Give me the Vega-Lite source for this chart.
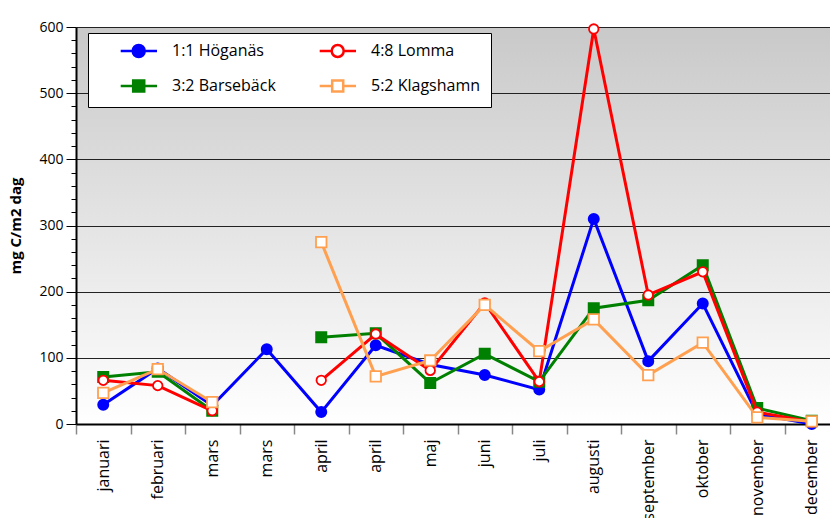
{
  "$schema": "https://vega.github.io/schema/vega-lite/v6.json",
  "width": 754,
  "height": 397,
  "autosize": {"type": "none"},
  "padding": {"left": 76, "top": 27, "right": 0, "bottom": 94},
  "config": {
    "font": "Open Sans",
    "view": {
      "stroke": null,
      "fill": {"gradient": "linear", "x1": 0, "y1": 0, "x2": 0, "y2": 1,
        "stops": [{"offset": 0, "color": "#c9c9c9"}, {"offset": 1, "color": "#ffffff"}]}
    }
  },
  "data": {"values": [
    {"s": "1:1 Höganäs", "m": "januari", "v": 29},
    {"s": "1:1 Höganäs", "m": "februari", "v": 84},
    {"s": "1:1 Höganäs", "m": "mars|1", "v": 28},
    {"s": "1:1 Höganäs", "m": "mars|2", "v": 113},
    {"s": "1:1 Höganäs", "m": "april|1", "v": 18},
    {"s": "1:1 Höganäs", "m": "april|2", "v": 119},
    {"s": "1:1 Höganäs", "m": "maj", "v": 90},
    {"s": "1:1 Höganäs", "m": "juni", "v": 74},
    {"s": "1:1 Höganäs", "m": "juli", "v": 52},
    {"s": "1:1 Höganäs", "m": "augusti", "v": 310},
    {"s": "1:1 Höganäs", "m": "september", "v": 95},
    {"s": "1:1 Höganäs", "m": "oktober", "v": 182},
    {"s": "1:1 Höganäs", "m": "november", "v": 15},
    {"s": "1:1 Höganäs", "m": "december", "v": 0},
    {"s": "3:2 Barsebäck", "m": "januari", "v": 71},
    {"s": "3:2 Barsebäck", "m": "februari", "v": 79},
    {"s": "3:2 Barsebäck", "m": "mars|1", "v": 20},
    {"s": "3:2 Barsebäck", "m": "mars|2", "v": null},
    {"s": "3:2 Barsebäck", "m": "april|1", "v": 131},
    {"s": "3:2 Barsebäck", "m": "april|2", "v": 137},
    {"s": "3:2 Barsebäck", "m": "maj", "v": 62},
    {"s": "3:2 Barsebäck", "m": "juni", "v": 106},
    {"s": "3:2 Barsebäck", "m": "juli", "v": 64},
    {"s": "3:2 Barsebäck", "m": "augusti", "v": 175},
    {"s": "3:2 Barsebäck", "m": "september", "v": 187},
    {"s": "3:2 Barsebäck", "m": "oktober", "v": 240},
    {"s": "3:2 Barsebäck", "m": "november", "v": 24},
    {"s": "3:2 Barsebäck", "m": "december", "v": 5},
    {"s": "4:8 Lomma", "m": "januari", "v": 66},
    {"s": "4:8 Lomma", "m": "februari", "v": 58},
    {"s": "4:8 Lomma", "m": "mars|1", "v": 20},
    {"s": "4:8 Lomma", "m": "mars|2", "v": null},
    {"s": "4:8 Lomma", "m": "april|1", "v": 66},
    {"s": "4:8 Lomma", "m": "april|2", "v": 136},
    {"s": "4:8 Lomma", "m": "maj", "v": 81},
    {"s": "4:8 Lomma", "m": "juni", "v": 183},
    {"s": "4:8 Lomma", "m": "juli", "v": 64},
    {"s": "4:8 Lomma", "m": "augusti", "v": 597},
    {"s": "4:8 Lomma", "m": "september", "v": 195},
    {"s": "4:8 Lomma", "m": "oktober", "v": 230},
    {"s": "4:8 Lomma", "m": "november", "v": 18},
    {"s": "4:8 Lomma", "m": "december", "v": 3},
    {"s": "5:2 Klagshamn", "m": "januari", "v": 47},
    {"s": "5:2 Klagshamn", "m": "februari", "v": 83},
    {"s": "5:2 Klagshamn", "m": "mars|1", "v": 33},
    {"s": "5:2 Klagshamn", "m": "mars|2", "v": null},
    {"s": "5:2 Klagshamn", "m": "april|1", "v": 275},
    {"s": "5:2 Klagshamn", "m": "april|2", "v": 72},
    {"s": "5:2 Klagshamn", "m": "maj", "v": 96},
    {"s": "5:2 Klagshamn", "m": "juni", "v": 180},
    {"s": "5:2 Klagshamn", "m": "juli", "v": 110},
    {"s": "5:2 Klagshamn", "m": "augusti", "v": 158},
    {"s": "5:2 Klagshamn", "m": "september", "v": 74},
    {"s": "5:2 Klagshamn", "m": "oktober", "v": 123},
    {"s": "5:2 Klagshamn", "m": "november", "v": 10},
    {"s": "5:2 Klagshamn", "m": "december", "v": 4}
  ]},
  "encoding": {
    "x": {
      "field": "m", "type": "nominal",
      "scale": {
        "type": "band",
        "domain": ["januari", "februari", "mars|1", "mars|2", "april|1", "april|2", "maj", "juni", "juli", "augusti", "september", "oktober", "november", "december"],
        "range": [0, 763],
        "paddingInner": 0, "paddingOuter": 0
      },
      "axis": {
        "title": null,
        "labelExpr": "split(datum.label, '|')[0]",
        "labelAngle": 270,
        "labelFontSize": 16,
        "labelColor": "black",
        "labelPadding": 5,
        "tickBand": "extent",
        "tickSize": 10,
        "tickColor": "#888888",
        "tickWidth": 1.5,
        "domainColor": "black",
        "domainWidth": 2,
        "grid": false
      }
    },
    "y": {
      "field": "v", "type": "quantitative",
      "scale": {"domain": [0, 600], "nice": false, "zero": true},
      "axis": {
        "title": "mg C/m2 dag",
        "titleFontSize": 15,
        "titleFontWeight": "bold",
        "titleColor": "black",
        "titlePadding": 15,
        "values": [0, 20, 40, 60, 80, 100, 120, 140, 160, 180, 200, 220, 240, 260, 280, 300, 320, 340, 360, 380, 400, 420, 440, 460, 480, 500, 520, 540, 560, 580, 600],
        "labelExpr": "datum.value % 100 === 0 ? datum.label : ''",
        "labelFontSize": 14,
        "labelColor": "black",
        "labelPadding": 3,
        "tickSize": {"condition": {"test": "datum.value % 100 === 0", "value": 10}, "value": 5},
        "tickColor": "black",
        "domainColor": "black",
        "domainWidth": 2,
        "grid": true,
        "gridColor": "#222222",
        "gridWidth": 1,
        "gridOpacity": {"condition": {"test": "datum.value % 100 === 0 && datum.value > 0", "value": 1}, "value": 0}
      }
    }
  },
  "layer": [
    {
      "transform": [{"filter": "datum.s === '1:1 Höganäs'"}],
      "mark": {"type": "line", "strokeWidth": 3, "stroke": "#0000ff", "invalid": "break-paths-show-domains"},
      "encoding": {"order": {"value": null}}
    },
    {
      "transform": [{"filter": "datum.s === '1:1 Höganäs' && isValid(datum.v)"}],
      "mark": {"type": "point", "shape": "circle", "filled": true, "size": 100, "fill": "#0000ff", "stroke": "#0000ff", "strokeWidth": 2, "opacity": 1},
      "encoding": {}
    },
    {
      "transform": [{"filter": "datum.s === '3:2 Barsebäck'"}],
      "mark": {"type": "line", "strokeWidth": 3, "stroke": "#008000", "invalid": "break-paths-show-domains"},
      "encoding": {"order": {"value": null}}
    },
    {
      "transform": [{"filter": "datum.s === '3:2 Barsebäck' && isValid(datum.v)"}],
      "mark": {"type": "point", "shape": "square", "filled": true, "size": 100, "fill": "#008000", "stroke": "#008000", "strokeWidth": 2, "opacity": 1},
      "encoding": {}
    },
    {
      "transform": [{"filter": "datum.s === '4:8 Lomma'"}],
      "mark": {"type": "line", "strokeWidth": 3, "stroke": "#ff0000", "invalid": "break-paths-show-domains"},
      "encoding": {"order": {"value": null}}
    },
    {
      "transform": [{"filter": "datum.s === '4:8 Lomma' && isValid(datum.v)"}],
      "mark": {"type": "point", "shape": "circle", "filled": true, "size": 90, "fill": "#ffffff", "stroke": "#ff0000", "strokeWidth": 1.8, "opacity": 1},
      "encoding": {}
    },
    {
      "transform": [{"filter": "datum.s === '5:2 Klagshamn'"}],
      "mark": {"type": "line", "strokeWidth": 3, "stroke": "#ffa050", "invalid": "break-paths-show-domains"},
      "encoding": {"order": {"value": null}}
    },
    {
      "transform": [{"filter": "datum.s === '5:2 Klagshamn' && isValid(datum.v)"}],
      "mark": {"type": "point", "shape": "square", "filled": true, "size": 110, "fill": "#ffffff", "stroke": "#ffa050", "strokeWidth": 1.8, "opacity": 1},
      "encoding": {}
    },
    {
      "transform": [{"filter": "isValid(datum.v)"}],
      "mark": {"type": "point", "filled": true, "opacity": 0, "strokeWidth": 2.5},
      "encoding": {
        "stroke": {
          "field": "s", "type": "nominal",
          "scale": {"domain": ["1:1 Höganäs", "3:2 Barsebäck", "4:8 Lomma", "5:2 Klagshamn"], "range": ["#0000ff", "#008000", "#ff0000", "#ffa050"]},
          "legend": {
            "title": null, "orient": "none", "legendX": 12, "legendY": 6, "columns": 2,
            "fillColor": "white", "strokeColor": "black", "padding": 10,
            "symbolSize": 144, "symbolOpacity": 1, "symbolStrokeWidth": 2.5,
            "labelFont": "Open Sans", "labelFontSize": 16, "labelColor": "black",
            "labelOffset": 58, "rowPadding": 13, "columnPadding": 15, "gridAlign": "all"
          }
        },
        "fill": {
          "field": "s", "type": "nominal",
          "scale": {"domain": ["1:1 Höganäs", "3:2 Barsebäck", "4:8 Lomma", "5:2 Klagshamn"], "range": ["#0000ff", "#008000", "#ffffff", "#ffffff"]},
          "legend": {
            "title": null, "orient": "none", "legendX": 12, "legendY": 6, "columns": 2,
            "fillColor": "white", "strokeColor": "black", "padding": 10,
            "symbolSize": 144, "symbolOpacity": 1, "symbolStrokeWidth": 2.5,
            "labelFont": "Open Sans", "labelFontSize": 16, "labelColor": "black",
            "labelOffset": 58, "rowPadding": 13, "columnPadding": 15, "gridAlign": "all"
          }
        },
        "shape": {
          "field": "s", "type": "nominal",
          "scale": {"domain": ["1:1 Höganäs", "3:2 Barsebäck", "4:8 Lomma", "5:2 Klagshamn"],
            "range": [
              "M2.45,0H4.45M6.45,0H8.5M4.45,0A1,1 0 1,0 6.45,0A1,1 0 1,0 4.45,0Z",
              "M2.45,0H4.53M6.37,0H8.5M4.53,-0.92H6.37V0.92H4.53Z",
              "M2.45,0H4.45M6.45,0H8.5M4.45,0A1,1 0 1,0 6.45,0A1,1 0 1,0 4.45,0Z",
              "M2.45,0H4.53M6.37,0H8.5M4.53,-0.92H6.37V0.92H4.53Z"
            ]},
          "legend": {
            "title": null, "orient": "none", "legendX": 12, "legendY": 6, "columns": 2,
            "fillColor": "white", "strokeColor": "black", "padding": 10,
            "symbolSize": 144, "symbolOpacity": 1, "symbolStrokeWidth": 2.5,
            "labelFont": "Open Sans", "labelFontSize": 16, "labelColor": "black",
            "labelOffset": 58, "rowPadding": 13, "columnPadding": 15, "gridAlign": "all"
          }
        }
      }
    }
  ]
}
